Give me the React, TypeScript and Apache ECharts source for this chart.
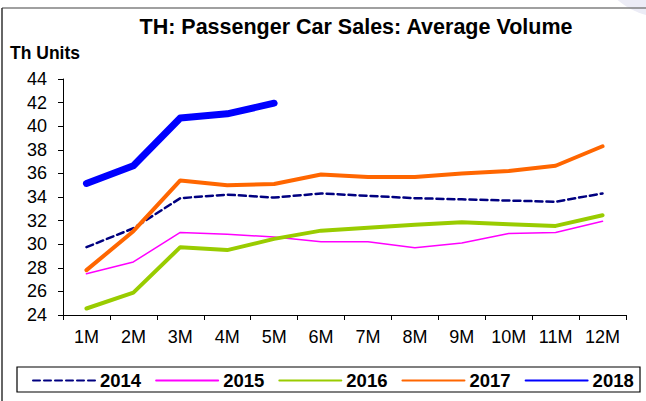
import React, { useEffect, useRef } from "react";
import * as echarts from "echarts";

const categories = ["1M", "2M", "3M", "4M", "5M", "6M", "7M", "8M", "9M", "10M", "11M", "12M"];
const s2014 = [29.75, 31.35, 33.9, 34.2, 33.95, 34.3, 34.1, 33.9, 33.8, 33.7, 33.6, 34.3];
const s2015 = [27.5, 28.5, 31.0, 30.85, 30.6, 30.2, 30.2, 29.7, 30.1, 30.9, 31.0, 31.95];
const s2016 = [24.55, 25.9, 29.75, 29.5, 30.45, 31.15, 31.4, 31.65, 31.85, 31.7, 31.55, 32.45];
const s2017 = [27.8, 31.1, 35.4, 35.0, 35.1, 35.9, 35.7, 35.7, 36.0, 36.2, 36.65, 38.3];
const s2018 = [35.15, 36.65, 40.7, 41.05, 41.95];
const yTicks = { min: 24, max: 44, interval: 2 };

const FONT = "'Liberation Sans', Arial, sans-serif";

export default function App() {
  const ref = useRef<HTMLDivElement>(null);
  useEffect(() => {
    if (!ref.current) return;
    const chart = echarts.init(ref.current, null, { renderer: "svg" });
    const mk = (name: string, data: number[], color: string, width: number, type: any = "solid") => ({
      name,
      type: "line",
      data,
      symbol: "none",
      showSymbol: false,
      lineStyle: { color, width, type, cap: "round", join: "round" },
      itemStyle: { color },
    });
    chart.setOption({
      animation: false,
      backgroundColor: "#ffffff",
      textStyle: { fontFamily: FONT },
      title: {
        text: "TH: Passenger Car Sales: Average Volume",
        left: 351,
        textAlign: "center",
        top: 11,
        textStyle: { fontFamily: FONT, fontSize: 21.5, fontWeight: "bold", color: "#000" },
      },
      grid: { left: 63, right: 20, top: 79, bottom: 86, containLabel: false },
      legend: {
        left: 32,
        top: 371,
        padding: 0,
        itemWidth: 62,
        itemHeight: 16,
        itemGap: 14,
        itemStyle: { opacity: 0, borderWidth: 0 },
        textStyle: { fontFamily: FONT, fontSize: 18.5, fontWeight: "bold", color: "#000" },
        data: ["2014", "2015", "2016", "2017", "2018"],
      },
      xAxis: {
        type: "category",
        data: categories,
        boundaryGap: true,
        axisLine: { lineStyle: { color: "#000", width: 1 } },
        axisTick: { show: true, length: 5, lineStyle: { color: "#000" } },
        axisLabel: { color: "#000", fontSize: 18, fontFamily: FONT, margin: 13, interval: 0 },
        splitLine: { show: false },
      },
      yAxis: {
        type: "value",
        min: yTicks.min,
        max: yTicks.max,
        interval: yTicks.interval,
        axisLine: { show: true, lineStyle: { color: "#000", width: 1 } },
        axisTick: { show: true, length: 5, lineStyle: { color: "#000" } },
        axisLabel: { color: "#000", fontSize: 18, fontFamily: FONT, margin: 16 },
        splitLine: { show: false },
      },
      series: [
        mk("2014", s2014, "#000080", 2.5, [7, 4]),
        mk("2015", s2015, "#ff00ff", 1.5),
        mk("2016", s2016, "#99cc00", 4),
        mk("2017", s2017, "#ff6600", 4),
        mk("2018", s2018, "#0000ff", 7),
      ],
      graphic: [
        {
          type: "ellipse",
          shape: { cx: 680, cy: -25, rx: 75, ry: 45 },
          style: { fill: "#ececf6" },
          silent: true,
          z: -10,
        },
        {
          type: "line",
          shape: { x1: 2, y1: 8, x2: 646, y2: 8 },
          style: { stroke: "#808080", lineWidth: 1.5 },
          silent: true,
        },
        {
          type: "line",
          shape: { x1: 2, y1: 8, x2: 2, y2: 401 },
          style: { stroke: "#333", lineWidth: 1.5 },
          silent: true,
        },
        {
          type: "text",
          left: 10,
          top: 44,
          style: { text: "Th Units", fontFamily: FONT, fontSize: 17.5, fontWeight: "bold", fill: "#000" },
          silent: true,
        },
        {
          type: "rect",
          shape: { x: 17, y: 367, width: 623, height: 25 },
          style: { fill: "none", stroke: "#000", lineWidth: 1.2 },
          silent: true,
        },
      ],
    });
    return () => chart.dispose();
  }, []);
  return (
    <div
      ref={ref}
      style={{ position: "fixed", left: 0, top: 0, width: 646, height: 401, background: "#fff" }}
    />
  );
}
